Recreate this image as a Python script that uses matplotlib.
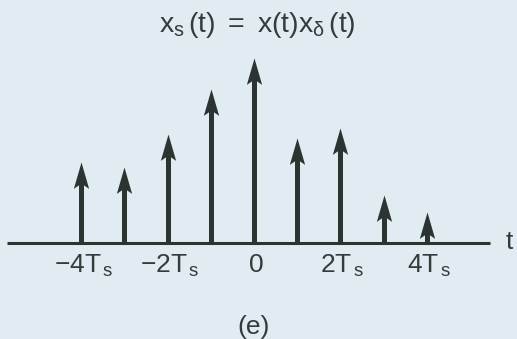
import numpy as np
import matplotlib
matplotlib.use("Agg")
import matplotlib.pyplot as plt
from matplotlib.path import Path

# --- DATA (impulse strengths, peak = 1) ---
n_samples = [-4, -3, -2, -1, 0, 1, 2, 3, 4]
strengths = [0.44, 0.41, 0.59, 0.83, 1.00, 0.57, 0.62, 0.26, 0.17]
tick_pos = [-4, -2, 0, 2, 4]
tick_labels = [r"$\mathrm{-4T_{\,s}}$", r"$\mathrm{-2T_{\,s}}$", r"$\mathrm{0}$",
               r"$\mathrm{2T_{\,s}}$", r"$\mathrm{4T_{\,s}}$"]
title = r"$\mathrm{x_{s}\,(t)\ =\ x(t)x_{\delta}\,(t)}$"

BG = "#e1ecf2"
INK = "#2c3431"
TXT = "#353b3a"

plt.rcParams["font.family"] = ["Liberation Sans", "DejaVu Sans"]
plt.rcParams["mathtext.fontset"] = "custom"
plt.rcParams["mathtext.rm"] = "Liberation Sans"
plt.rcParams["mathtext.it"] = "Liberation Sans:italic"

fig = plt.figure(figsize=(5.17, 3.39), dpi=100, facecolor=BG)
ax = fig.add_axes([0, 0, 1, 1])
ax.set_facecolor(BG)
ax.axis("off")
ax.set_xlim(-5.88, 6.09)
ax.set_ylim(-0.519, 1.3135)

# notched arrow head, tip at the marker anchor
head = Path([(0, 0), (-0.29, -1), (0, -0.8), (0.29, -1), (0, 0)],
            [Path.MOVETO, Path.LINETO, Path.LINETO, Path.LINETO, Path.CLOSEPOLY])

x = np.array(n_samples)
h = np.array(strengths)
ax.plot([-5.72, 5.46], [0, 0], color=INK, lw=2.2, solid_capstyle="butt")
ax.vlines(x, 0, h - 0.1, color=INK, lw=3.6)
ax.plot(x, h, linestyle="none", marker=head, markersize=38,
        color=INK, markeredgewidth=0)

for p, lab in zip(tick_pos, tick_labels):
    ax.text(p + 0.05, -0.055, lab, ha="center", va="top", fontsize=19, color=TXT)

fig.text(0.498, 1 - 25 / 339, title, ha="center", va="center", fontsize=20.5, color=TXT)
fig.text(0.491, 0.034, "(e)", ha="center", va="center", fontsize=19, color=TXT)
fig.text(0.978, 0.286, "t", ha="left", va="center", fontsize=19, color=TXT)

fig.savefig("out.png", dpi=100, facecolor=BG)
